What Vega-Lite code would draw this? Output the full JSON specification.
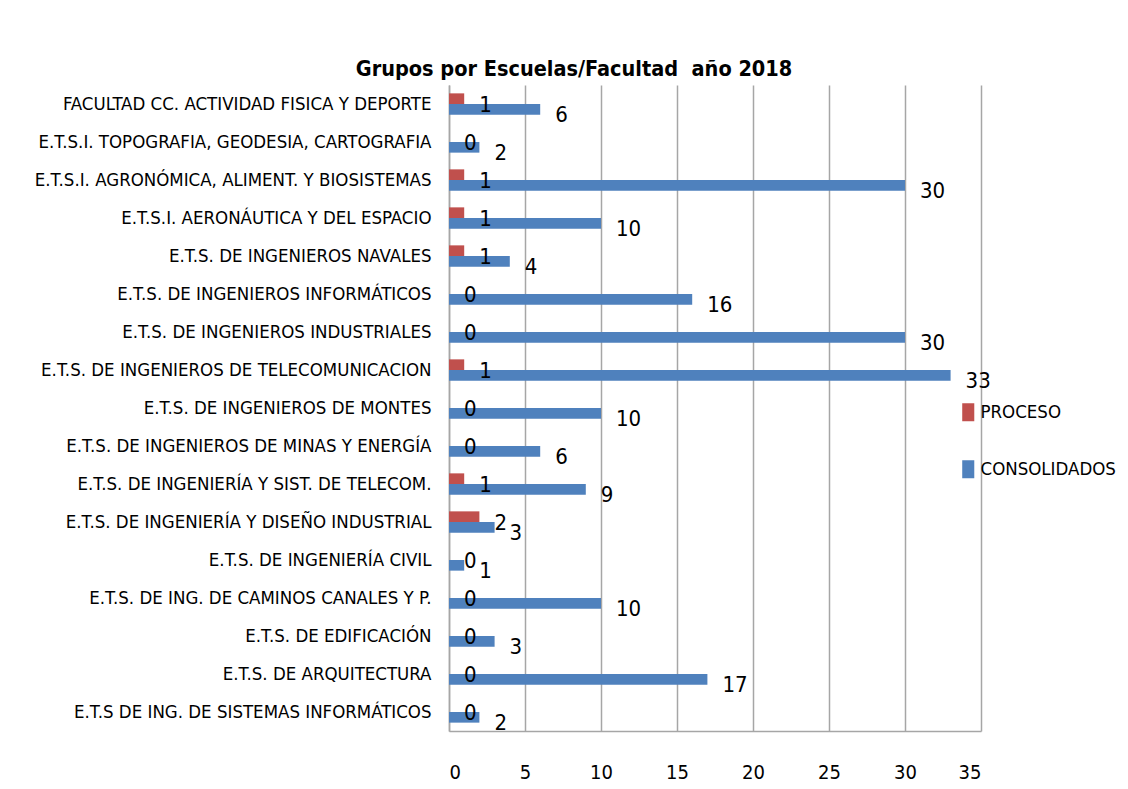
{
  "$schema": "https://vega.github.io/schema/vega-lite/v6.json",
  "width": 532,
  "height": 646,
  "autosize": "none",
  "padding": {"left": 449, "top": 85, "right": 147, "bottom": 58},
  "background": "white",
  "title": {
    "text": "Grupos por Escuelas/Facultad \u00a0año 2018",
    "anchor": "middle",
    "dx": -141,
    "offset": 5,
    "font": "DejaVu Sans Condensed, sans-serif",
    "fontSize": 21.5,
    "fontWeight": "bold",
    "color": "#000000"
  },
  "config": {
    "view": {"stroke": null},
    "font": "DejaVu Sans Condensed, sans-serif"
  },
  "data": {
    "values": [
      {"escuela": "FACULTAD CC. ACTIVIDAD FISICA Y DEPORTE", "serie": "PROCESO", "valor": 1},
      {"escuela": "FACULTAD CC. ACTIVIDAD FISICA Y DEPORTE", "serie": "CONSOLIDADOS", "valor": 6},
      {"escuela": "E.T.S.I. TOPOGRAFIA, GEODESIA, CARTOGRAFIA", "serie": "PROCESO", "valor": 0},
      {"escuela": "E.T.S.I. TOPOGRAFIA, GEODESIA, CARTOGRAFIA", "serie": "CONSOLIDADOS", "valor": 2},
      {"escuela": "E.T.S.I. AGRONÓMICA, ALIMENT. Y BIOSISTEMAS", "serie": "PROCESO", "valor": 1},
      {"escuela": "E.T.S.I. AGRONÓMICA, ALIMENT. Y BIOSISTEMAS", "serie": "CONSOLIDADOS", "valor": 30},
      {"escuela": "E.T.S.I. AERONÁUTICA Y DEL ESPACIO", "serie": "PROCESO", "valor": 1},
      {"escuela": "E.T.S.I. AERONÁUTICA Y DEL ESPACIO", "serie": "CONSOLIDADOS", "valor": 10},
      {"escuela": "E.T.S. DE INGENIEROS NAVALES", "serie": "PROCESO", "valor": 1},
      {"escuela": "E.T.S. DE INGENIEROS NAVALES", "serie": "CONSOLIDADOS", "valor": 4},
      {"escuela": "E.T.S. DE INGENIEROS INFORMÁTICOS", "serie": "PROCESO", "valor": 0},
      {"escuela": "E.T.S. DE INGENIEROS INFORMÁTICOS", "serie": "CONSOLIDADOS", "valor": 16},
      {"escuela": "E.T.S. DE INGENIEROS INDUSTRIALES", "serie": "PROCESO", "valor": 0},
      {"escuela": "E.T.S. DE INGENIEROS INDUSTRIALES", "serie": "CONSOLIDADOS", "valor": 30},
      {"escuela": "E.T.S. DE INGENIEROS DE TELECOMUNICACION", "serie": "PROCESO", "valor": 1},
      {"escuela": "E.T.S. DE INGENIEROS DE TELECOMUNICACION", "serie": "CONSOLIDADOS", "valor": 33},
      {"escuela": "E.T.S. DE INGENIEROS DE MONTES", "serie": "PROCESO", "valor": 0},
      {"escuela": "E.T.S. DE INGENIEROS DE MONTES", "serie": "CONSOLIDADOS", "valor": 10},
      {"escuela": "E.T.S. DE INGENIEROS DE MINAS Y ENERGÍA", "serie": "PROCESO", "valor": 0},
      {"escuela": "E.T.S. DE INGENIEROS DE MINAS Y ENERGÍA", "serie": "CONSOLIDADOS", "valor": 6},
      {"escuela": "E.T.S. DE INGENIERÍA Y SIST. DE TELECOM.", "serie": "PROCESO", "valor": 1},
      {"escuela": "E.T.S. DE INGENIERÍA Y SIST. DE TELECOM.", "serie": "CONSOLIDADOS", "valor": 9},
      {"escuela": "E.T.S. DE INGENIERÍA Y DISEÑO INDUSTRIAL", "serie": "PROCESO", "valor": 2},
      {"escuela": "E.T.S. DE INGENIERÍA Y DISEÑO INDUSTRIAL", "serie": "CONSOLIDADOS", "valor": 3},
      {"escuela": "E.T.S. DE INGENIERÍA CIVIL", "serie": "PROCESO", "valor": 0},
      {"escuela": "E.T.S. DE INGENIERÍA CIVIL", "serie": "CONSOLIDADOS", "valor": 1},
      {"escuela": "E.T.S. DE ING. DE CAMINOS CANALES Y P.", "serie": "PROCESO", "valor": 0},
      {"escuela": "E.T.S. DE ING. DE CAMINOS CANALES Y P.", "serie": "CONSOLIDADOS", "valor": 10},
      {"escuela": "E.T.S. DE EDIFICACIÓN", "serie": "PROCESO", "valor": 0},
      {"escuela": "E.T.S. DE EDIFICACIÓN", "serie": "CONSOLIDADOS", "valor": 3},
      {"escuela": "E.T.S. DE ARQUITECTURA", "serie": "PROCESO", "valor": 0},
      {"escuela": "E.T.S. DE ARQUITECTURA", "serie": "CONSOLIDADOS", "valor": 17},
      {"escuela": "E.T.S DE ING. DE SISTEMAS INFORMÁTICOS", "serie": "PROCESO", "valor": 0},
      {"escuela": "E.T.S DE ING. DE SISTEMAS INFORMÁTICOS", "serie": "CONSOLIDADOS", "valor": 2}
    ]
  },
  "encoding": {
    "y": {
      "field": "escuela",
      "type": "nominal",
      "sort": null,
      "title": null,
      "scale": {"paddingInner": 0.44, "paddingOuter": 0.22},
      "axis": {
        "domainColor": "#A6A6A6",
        "domainWidth": 1.5,
        "ticks": false,
        "labelPadding": 18,
        "labelFontSize": 18.5,
        "labelColor": "#000000",
        "labelLimit": 500,
        "grid": false
      }
    },
    "yOffset": {
      "field": "serie",
      "type": "nominal",
      "sort": ["PROCESO", "CONSOLIDADOS"]
    },
    "x": {
      "field": "valor",
      "type": "quantitative",
      "title": null,
      "scale": {"domain": [0, 35], "nice": false},
      "axis": {
        "values": [0, 5, 10, 15, 20, 25, 30, 35],
        "grid": true,
        "gridColor": "#A6A6A6",
        "gridWidth": 1.5,
        "domainColor": "#A6A6A6",
        "domainWidth": 1.5,
        "ticks": false,
        "labelPadding": 31,
        "labelFontSize": 20,
        "labelColor": "#000000"
      }
    }
  },
  "layer": [
    {
      "mark": {"type": "bar"},
      "encoding": {
        "color": {
          "field": "serie",
          "type": "nominal",
          "sort": ["PROCESO", "CONSOLIDADOS"],
          "scale": {"domain": ["PROCESO", "CONSOLIDADOS"], "range": ["#C0504D", "#4F81BD"]},
          "legend": {
            "title": null,
            "orient": "none",
            "legendX": 510,
            "legendY": 318,
            "symbolType": "M-0.67,-1H0.67V1H-0.67Z",
            "symbolSize": 324,
            "symbolStrokeWidth": 0,
            "symbolOpacity": 1,
            "labelFontSize": 18.5,
            "labelColor": "#000000",
            "labelOffset": 3,
            "rowPadding": 38,
            "labelLimit": 300
          }
        }
      }
    },
    {
      "mark": {"type": "text", "align": "left", "baseline": "middle", "dx": 15, "dy": 6, "fontSize": 22, "color": "#000000"},
      "encoding": {
        "text": {"field": "valor", "type": "quantitative"}
      }
    }
  ]
}
